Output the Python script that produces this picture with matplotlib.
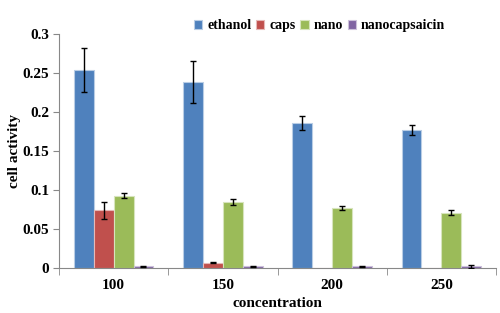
import matplotlib
matplotlib.use("Agg")
import matplotlib.pyplot as plt
import numpy as np

categories = ["100", "150", "200", "250"]
series = ["ethanol", "caps", "nano", "nanocapsaicin"]
ethanol = [0.254, 0.239, 0.186, 0.177]
ethanol_err = [0.028, 0.027, 0.009, 0.006]
caps = [0.074, 0.007, 0.0, 0.0]
caps_err = [0.011, 0.001, 0.0, 0.0]
nano = [0.093, 0.085, 0.077, 0.071]
nano_err = [0.003, 0.004, 0.003, 0.003]
nanocaps = [0.002, 0.002, 0.002, 0.002]
nanocaps_err = [0.0005, 0.0005, 0.0005, 0.0015]
yticks = [0, 0.05, 0.1, 0.15, 0.2, 0.25, 0.3]
ytick_labels = ["0", "0.05", "0.1", "0.15", "0.2", "0.25", "0.3"]

colors = ["#4F81BD", "#C0504D", "#9BBB59", "#8064A2"]
edges = ["#B9CDE5", "#E6B9B8", "#D7E4BD", "#CCC1DA"]

plt.rcParams['font.family'] = ['Liberation Serif', 'DejaVu Serif']
plt.rcParams['font.weight'] = 'bold'

fig = plt.figure(figsize=(5, 3.13), dpi=100)
ax = fig.add_axes([0.118, 0.1438, 0.874, 0.747])

x = np.arange(len(categories))
w = 0.182
vals = [ethanol, caps, nano, nanocaps]
errs = [ethanol_err, caps_err, nano_err, nanocaps_err]
for i, (v, e) in enumerate(zip(vals, errs)):
    pos = x + (i - 1.5) * w
    ax.bar(pos, v, w, color=colors[i], edgecolor=edges[i], linewidth=0.8,
           label=series[i], zorder=2)
    v = np.array(v); e = np.array(e)
    m = e > 0
    ax.errorbar(pos[m], v[m], yerr=e[m], fmt='none', ecolor='black', elinewidth=1,
                capsize=2.5, capthick=1, zorder=3)

ax.set_xlim(-0.5, 3.5)
ax.set_ylim(0, 0.3)
ax.set_yticks(yticks)
ax.set_yticklabels(ytick_labels, fontsize=11, fontweight='bold')
ax.set_xticks(x)
ax.set_xticklabels(categories, fontsize=11, fontweight='bold')
ax.set_xticks(np.arange(-0.5, 4.0, 1.0), minor=True)
ax.tick_params(axis='x', which='major', length=0, pad=8)
ax.tick_params(axis='x', which='minor', length=5, color='#888888', direction='out')
ax.tick_params(axis='y', length=4, color='#888888', direction='out', pad=3)
for s in ['top', 'right']:
    ax.spines[s].set_visible(False)
for s in ['left', 'bottom']:
    ax.spines[s].set_color('#888888')
    ax.spines[s].set_linewidth(0.8)

ax.set_ylabel("cell activity", fontsize=11, fontweight='bold')
ax.yaxis.set_label_coords(-0.087, 0.5)
ax.set_xlabel("concentration", fontsize=11, fontweight='bold')
ax.xaxis.set_label_coords(0.5, -0.125)

ax.legend(loc='upper left', bbox_to_anchor=(0.28, 1.118), ncol=4, frameon=False,
          handlelength=0.6, handleheight=0.6, handletextpad=0.35, columnspacing=0.35,
          prop={'family': 'Liberation Serif', 'weight': 'bold', 'size': 10})

fig.savefig("out.png", dpi=100)
